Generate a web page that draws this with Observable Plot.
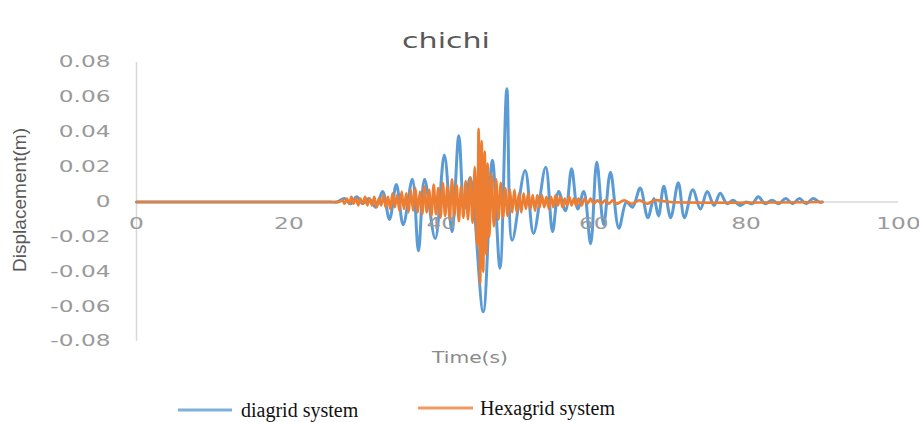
<!DOCTYPE html>
<html>
<head>
<meta charset="utf-8">
<script src="https://cdn.jsdelivr.net/npm/d3@7"></script>
<script src="https://cdn.jsdelivr.net/npm/@observablehq/plot@0.6"></script>
<style>
  html, body { margin: 0; padding: 0; background: #fff; }
  #chart { width: 919px; height: 422px; position: relative; }
</style>
</head>
<body>
<div id="chart"></div>
<script>
const title = "chichi";
const xLabel = "Time(s)";
const yLabel = "Displacement(m)";
const seriesNames = ["diagrid system", "Hexagrid system"];
const seriesColors = ["#5B9BD5", "#ED7D31"];

const xTicks = [0, 20, 40, 60, 80, 100];
const xTickLabels = ["0", "20", "40", "60", "80", "100"];
const yTicks = [-0.08, -0.06, -0.04, -0.02, 0, 0.02, 0.04, 0.06, 0.08];
const yTickLabels = ["-0.08", "-0.06", "-0.04", "-0.02", "0", "0.02", "0.04", "0.06", "0.08"];

// diagrid system: [time (s), displacement (m)] at read-off peaks/troughs
const diagrid = [
  [0, 0], [20, 0], [25.5, 0], [26.3, 0], [27.3, 0.002], [28.1, -0.001], [28.9, 0.003], [29.7, -0.001],
  [30.5, 0.002], [31.4, -0.003], [32.3, 0.006], [33.2, -0.010], [34.1, 0.010],
  [35.0, -0.013], [36.2, 0.013], [37.0, -0.028], [37.8, 0.013], [39.2, -0.021],
  [40.4, 0.027], [41.4, -0.017], [42.3, 0.038], [43.0, -0.004], [43.8, 0.014],
  [45.5, -0.063], [46.7, 0.024], [47.7, -0.038], [48.6, 0.065], [49.3, -0.022],
  [51.0, 0.018], [52.1, -0.018], [53.7, 0.020], [54.6, -0.017], [55.4, 0.006],
  [56.3, -0.005], [57.1, 0.019], [57.9, -0.004], [58.7, 0.006], [59.6, -0.024],
  [60.4, 0.023], [61.3, -0.013], [62.2, 0.017], [63.3, -0.015], [64.3, 0.000],
  [65.1, -0.003], [66.1, 0.008], [67.1, -0.009], [67.9, 0.002], [68.5, -0.008],
  [69.2, 0.009], [70.1, -0.009], [71.1, 0.011], [71.9, -0.009], [73.0, 0.007],
  [74.0, -0.004], [74.9, 0.006], [75.8, -0.002], [76.6, 0.005], [77.5, -0.001],
  [78.3, 0.001], [79.2, -0.002], [80.0, 0.000], [80.8, -0.001], [81.6, 0.003],
  [82.5, -0.001], [83.4, 0.001], [84.3, -0.001], [85.2, 0.002], [86.1, -0.001],
  [87.0, 0.002], [87.9, -0.001], [88.8, 0.002], [89.6, 0.000], [90, 0]
];

// Hexagrid system: [time (s), displacement (m)]
const hexagrid = [
  [0, 0], [20, 0], [26.0, 0], [26.5, 0], [27.0, 0.001], [27.3, -0.001], [27.6, 0.002], [27.9, -0.001],
  [28.2, 0.003], [28.5, -0.001], [28.8, 0.002], [29.1, -0.002], [29.4, 0.002],
  [29.7, -0.001], [30.0, 0.003], [30.3, -0.002], [30.6, 0.002], [30.9, -0.002],
  [31.2, 0.003], [31.5, -0.003], [31.8, 0.002], [32.1, -0.002], [32.4, 0.004],
  [32.7, -0.003], [33.0, 0.003], [33.3, -0.004], [33.6, 0.005], [33.9, -0.003],
  [34.2, 0.004], [34.5, -0.005], [34.8, 0.006], [35.1, -0.004], [35.4, 0.005],
  [35.7, -0.006], [36.0, 0.007], [36.3, -0.005], [36.6, 0.008], [36.9, -0.006],
  [37.2, 0.006], [37.5, -0.007], [37.8, 0.009], [38.1, -0.006], [38.4, 0.007],
  [38.7, -0.008], [39.0, 0.010], [39.3, -0.007], [39.6, 0.008], [39.9, -0.009],
  [40.2, 0.011], [40.5, -0.008], [40.8, 0.009], [41.1, -0.010], [41.4, 0.013],
  [41.7, -0.008], [42.0, 0.010], [42.3, -0.011], [42.6, 0.009], [42.9, -0.009],
  [43.2, 0.012], [43.5, -0.010], [43.8, 0.014], [44.1, -0.012], [44.4, 0.020],
  [44.7, -0.025], [44.9, 0.042], [45.1, -0.047], [45.3, 0.035], [45.5, -0.040],
  [45.7, 0.029], [45.9, -0.030], [46.1, 0.022], [46.3, -0.020], [46.6, 0.016],
  [46.9, -0.014], [47.2, 0.013], [47.5, -0.010], [47.8, 0.011], [48.1, -0.009],
  [48.4, 0.008], [48.7, -0.008], [49.0, 0.007], [49.3, -0.006], [49.6, 0.007],
  [49.9, -0.006], [50.2, 0.005], [50.5, -0.006], [50.8, 0.005], [51.1, -0.004],
  [51.4, 0.005], [51.7, -0.004], [52.0, 0.004], [52.3, -0.005], [52.6, 0.004],
  [52.9, -0.003], [53.2, 0.004], [53.5, -0.003], [53.8, 0.003], [54.1, -0.004],
  [54.4, 0.003], [54.7, -0.003], [55.0, 0.004], [55.3, -0.002], [55.6, 0.003],
  [55.9, -0.003], [56.2, 0.002], [56.5, -0.002], [56.8, 0.003], [57.1, -0.002],
  [57.4, 0.002], [57.7, -0.002], [58.0, 0.002], [58.4, -0.002], [58.8, 0.002],
  [59.2, -0.001], [59.6, 0.002], [60.0, -0.001], [60.5, 0.001], [61.0, -0.001],
  [61.5, 0.001], [62.0, -0.001], [62.5, 0.001], [63.0, -0.001], [64.0, 0.001],
  [65.0, -0.001], [66.0, 0.001], [67.0, -0.001], [68.0, 0.001], [70.0, 0.000],
  [90, 0]
];

const tickColor = "#9a9a9a";
const axisColor = "#d9d9d9";

const plot = Plot.plot({
  width: 919,
  height: 422,
  marginTop: 62,
  marginBottom: 81,
  marginLeft: 136,
  marginRight: 21,
  style: "background: transparent; font-family: 'DejaVu Sans', sans-serif; font-size: 15.5px; overflow: visible;",
  x: { domain: [0, 100], axis: null },
  y: { domain: [-0.08, 0.08], axis: null },
  marks: [
    Plot.ruleY([0], { stroke: axisColor, strokeWidth: 1.5 }),
    Plot.ruleX([0], { y1: -0.08, y2: 0.08, stroke: axisColor, strokeWidth: 1.5 }),
    Plot.text(yTicks, {
      x: () => 0, y: d => d, text: (d, i) => yTickLabels[i],
      textAnchor: "end", dx: -26, fill: tickColor
    }),
    Plot.line(diagrid, {
      x: d => d[0], y: d => d[1], stroke: seriesColors[0], strokeWidth: 3,
      curve: "catmull-rom"
    }),
    Plot.line(hexagrid, {
      x: d => d[0], y: d => d[1], stroke: seriesColors[1], strokeWidth: 2.6,
      curve: "catmull-rom"
    }),
    Plot.text(xTicks, {
      x: d => d, y: () => 0, text: (d, i) => xTickLabels[i],
      dy: 22, fill: tickColor
    })
  ]
});

document.getElementById("chart").appendChild(plot);
const svg = d3.select(plot);

// widen the tick labels like the reference's wide face
svg.selectAll('g[aria-label="text"] text').each(function () {
  const L = this.getComputedTextLength();
  this.setAttribute("textLength", L * 1.5);
  this.setAttribute("lengthAdjust", "spacingAndGlyphs");
});

function addText(opts) {
  const t = svg.append("text")
    .attr("x", opts.x).attr("y", opts.y)
    .attr("text-anchor", opts.anchor || "start")
    .attr("dominant-baseline", "central")
    .style("font-family", opts.family).style("font-size", opts.size)
    .attr("fill", opts.fill)
    .text(opts.text);
  if (opts.transform) t.attr("transform", opts.transform);
  if (opts.length) t.attr("textLength", opts.length).attr("lengthAdjust", "spacingAndGlyphs");
  return t;
}

addText({ x: 446, y: 40, anchor: "middle", family: "'DejaVu Sans', sans-serif", size: "22px", fill: "#595959", text: title, length: 88 });
addText({ x: 0, y: 0, anchor: "middle", family: "'Liberation Sans', sans-serif", size: "19px", fill: "#595959", text: yLabel, length: 144, transform: "translate(19,200) rotate(-90)" });
addText({ x: 470, y: 357, anchor: "middle", family: "'DejaVu Sans', sans-serif", size: "16px", fill: "#8a8a8a", text: xLabel, length: 76 });

const legendItems = [
  { name: seriesNames[0], color: "#7fb0dc", x1: 178, x2: 232, tx: 241, y: 410 },
  { name: seriesNames[1], color: "#f19a60", x1: 418, x2: 473, tx: 480, y: 408 }
];
for (const it of legendItems) {
  svg.append("line")
    .attr("x1", it.x1).attr("x2", it.x2).attr("y1", it.y).attr("y2", it.y)
    .attr("stroke", it.color).attr("stroke-width", 3);
  addText({ x: it.tx, y: it.y, family: "'Liberation Serif', 'Times New Roman', serif", size: "20px", fill: "#111", text: it.name });
}
</script>
</body>
</html>
